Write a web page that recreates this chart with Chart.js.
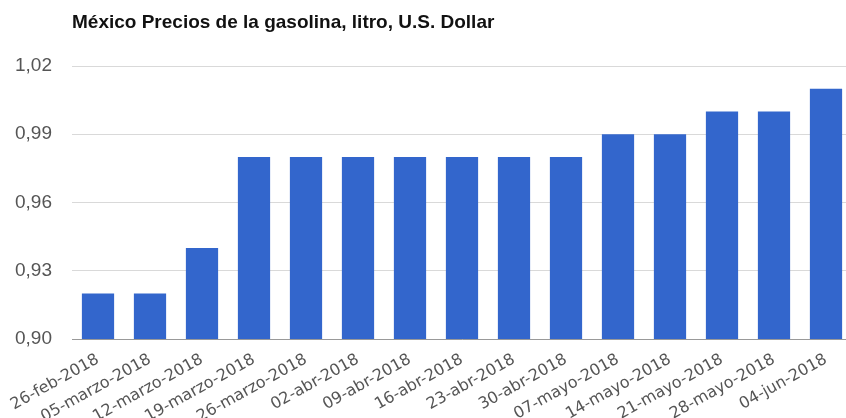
<!DOCTYPE html>
<html lang="es">
<head>
  <meta charset="UTF-8">
  <title>México Precios de la gasolina</title>
  <script src="https://cdn.jsdelivr.net/npm/chart.js"></script>
  <style>
    html, body { margin: 0; padding: 0; background: #fff; overflow: hidden; }
    #wrap { width: 852px; height: 418px; position: relative; }
  </style>
</head>
<body>
  <div id="wrap"><canvas id="gasChart"></canvas></div>
  <script>
    const chartTitle = 'México Precios de la gasolina, litro, U.S. Dollar';
    const weeks = [
      '26-feb-2018', '05-marzo-2018', '12-marzo-2018', '19-marzo-2018', '26-marzo-2018',
      '02-abr-2018', '09-abr-2018', '16-abr-2018', '23-abr-2018', '30-abr-2018',
      '07-mayo-2018', '14-mayo-2018', '21-mayo-2018', '28-mayo-2018', '04-jun-2018'
    ];
    const prices = [0.92, 0.92, 0.94, 0.98, 0.98, 0.98, 0.98, 0.98, 0.98, 0.98, 0.99, 0.99, 1.00, 1.00, 1.01];
    const yTicks = [0.90, 0.93, 0.96, 0.99, 1.02];

    // title drawn flush with the plot area's left edge
    const titlePlugin = {
      id: 'leftTitle',
      afterDraw(chart) {
        const ctx = chart.ctx;
        ctx.save();
        ctx.font = 'bold 19px "Liberation Sans", Arial, sans-serif';
        ctx.fillStyle = '#111';
        ctx.textBaseline = 'middle';
        ctx.fillText(chartTitle, chart.chartArea.left, 23);
        ctx.restore();
      }
    };

    new Chart(document.getElementById('gasChart'), {
      type: 'bar',
      data: {
        labels: weeks,
        datasets: [{
          data: prices,
          backgroundColor: '#3366cc',
          borderWidth: 0,
          categoryPercentage: 1,
          barPercentage: 0.62
        }]
      },
      options: {
        responsive: true,
        maintainAspectRatio: false,
        animation: false,
        layout: { padding: { top: 66, right: 0, left: 0, bottom: 0 } },
        plugins: {
          legend: { display: false },
          tooltip: { enabled: false },
          title: { display: false }
        },
        scales: {
          x: {
            grid: { display: false },
            border: { color: '#999' },
            ticks: {
              color: '#555',
              font: { family: '"DejaVu Sans", Verdana, sans-serif', size: 16 },
              minRotation: 29,
              maxRotation: 29,
              autoSkip: false,
              padding: 3
            },
            afterFit(scale) { scale.height = 79; }
          },
          y: {
            min: 0.90,
            max: 1.02,
            afterBuildTicks(scale) { scale.ticks = yTicks.map(v => ({ value: v })); },
            grid: { color: '#d9d9d9', drawTicks: false },
            border: { display: false },
            ticks: {
              color: '#555',
              padding: 20,
              font: { family: '"Liberation Sans", Arial, sans-serif', size: 19 },
              callback: v => v.toFixed(2).replace('.', ',')
            },
            afterFit(scale) { scale.width = 72; }
          }
        }
      },
      plugins: [titlePlugin]
    });
  </script>
</body>
</html>
